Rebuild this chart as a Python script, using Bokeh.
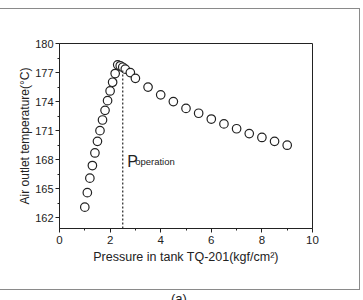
from bokeh.plotting import figure
from bokeh.layouts import column
from bokeh.models import FixedTicker, Range1d, Label, ColumnDataSource, Div, InlineStyleSheet
from bokeh.embed import file_html
from bokeh.resources import INLINE

# Measured series: tank pressure vs. air outlet temperature
pressure = [1.0, 1.1, 1.2, 1.3, 1.4, 1.5, 1.6, 1.7, 1.8, 1.9, 2.0, 2.1, 2.2,
            2.3, 2.4, 2.5, 2.6, 2.8, 3.0, 3.5, 4.0, 4.5, 5.0, 5.5, 6.0, 6.5,
            7.0, 7.5, 8.0, 8.5, 9.0]
temperature = [163.1, 164.6, 166.1, 167.4, 168.7, 169.9, 171.0, 172.1, 173.1,
               174.1, 175.1, 176.0, 176.9, 177.8, 177.7, 177.55, 177.35, 177.0,
               176.4, 175.5, 174.7, 174.0, 173.3, 172.8, 172.2, 171.7, 171.2,
               170.7, 170.3, 169.9, 169.5]

# Operating point marker
p_operation = [2.5]
t_operation = [177.3]

x_ticks = [0, 2, 4, 6, 8, 10]
x_minor = [1, 3, 5, 7, 9]
y_ticks = [162, 165, 168, 171, 174, 177, 180]
y_minor = [163.5, 166.5, 169.5, 172.5, 175.5, 178.5]

FONT = "Liberation Sans"
INK = "#222222"

# Thin grey panel frame drawn around the whole figure (open on the left)
panel_css = InlineStyleSheet(css="""
:host { position: relative; }
:host::after {
  content: "";
  position: absolute;
  left: -10px; top: 8px; width: 370px; height: 282px;
  border: 1px solid #8a8a8a;
  box-sizing: border-box;
  pointer-events: none;
}
""")

p = figure(width=363, height=300, output_backend="svg", toolbar_location=None,
           x_range=Range1d(0, 10), y_range=Range1d(160.9, 180),
           min_border_left=59, min_border_right=51,
           min_border_top=43, min_border_bottom=72,
           stylesheets=[panel_css])
p.background_fill_color = "white"
p.border_fill_color = "white"
p.outline_line_color = INK
p.outline_line_width = 1
p.xgrid.visible = False
p.ygrid.visible = False

for ax in (p.xaxis[0], p.yaxis[0]):
    ax.axis_line_color = INK
    ax.major_tick_line_color = INK
    ax.minor_tick_line_color = INK
    ax.major_tick_out = 4
    ax.major_tick_in = 0
    ax.minor_tick_out = 2
    ax.minor_tick_in = 0
    ax.major_label_text_font = FONT
    ax.major_label_text_color = INK
    ax.major_label_standoff = 2
    ax.axis_label_text_font = FONT
    ax.axis_label_text_font_style = "normal"
    ax.axis_label_text_color = INK

p.xaxis[0].major_label_text_font_size = "11.5px"
p.xaxis[0].major_label_standoff = 3
p.xaxis[0].axis_label_text_font_size = "12.5px"
p.xaxis[0].axis_label_standoff = 3
p.yaxis[0].major_label_text_font_size = "11px"
p.yaxis[0].axis_label_text_font_size = "12px"
p.yaxis[0].axis_label_standoff = 0

p.xaxis[0].ticker = FixedTicker(ticks=x_ticks, minor_ticks=x_minor)
p.yaxis[0].ticker = FixedTicker(ticks=y_ticks, minor_ticks=y_minor)
p.xaxis[0].axis_label = "Pressure in tank TQ-201(kgf/cm²)"
p.yaxis[0].axis_label = "Air outlet temperature(°C)"

src = ColumnDataSource(dict(x=pressure, y=temperature))
p.scatter("x", "y", source=src, marker="circle", size=8.5,
          fill_color="white", line_color=INK, line_width=1.2)

# Dashed vertical line at the operating pressure
p.segment(x0=p_operation, y0=[160.9], x1=p_operation, y1=t_operation,
          line_color=INK, line_dash="2 2", line_width=1.2)

p.add_layout(Label(x=2.68, y=167.85, text="P", text_font=FONT,
                   text_font_size="16px", text_color=INK,
                   text_baseline="alphabetic"))
p.add_layout(Label(x=2.99, y=167.85, text="operation", text_font=FONT,
                   text_font_size="9.5px", text_color=INK,
                   text_baseline="alphabetic"))

# Panel caption, sitting just under the grey frame
caption = Div(text="(a)", styles={
    "position": "absolute", "left": "171px", "top": "292px",
    "font-family": FONT, "font-size": "13px", "line-height": "13px",
    "color": INK, "z-index": "2", "margin": "0",
})

page = column(p, caption)
open("out.html", "w").write(file_html(page, INLINE))
